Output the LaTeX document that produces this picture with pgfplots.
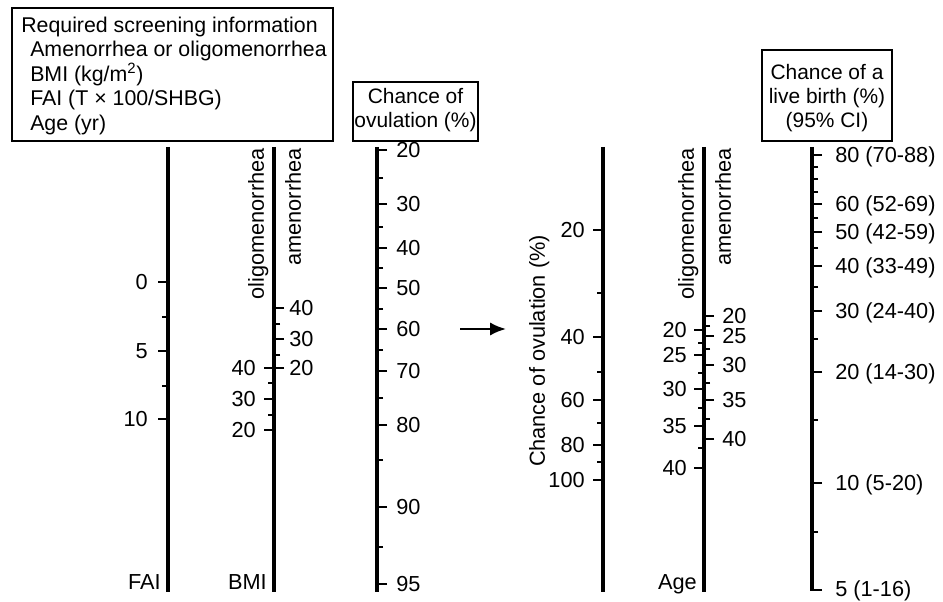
\documentclass[border=0pt]{standalone}
\usepackage{fontspec}
\setmainfont{Liberation Sans}
\usepackage{pgfplots}
\pgfplotsset{compat=1.18}
\usetikzlibrary{arrows.meta}
\pgfplotsset{
  axisline/.style={line width=2.3pt, black},
  majt/.style={only marks, mark=-, mark size=3.9pt, mark options={line width=1.5pt, black}},
  mint/.style={only marks, mark=-, mark size=2.4pt, mark options={line width=1.5pt, black}},
}
\begin{document}
\begin{tikzpicture}[
  lab/.style={font=\fontsize{16.3}{18}\selectfont, inner sep=0pt, text height=11.7pt, text depth=0pt},
  btxt/.style={font=\fontsize{15.7}{17}\selectfont, inner sep=0pt},
  ttxt/.style={font=\fontsize{16}{18}\selectfont, inner sep=0pt},
  box/.style={line width=1.8pt, black}]
\begin{axis}[x=0.75pt, y=0.75pt, y dir=reverse, xmin=0, xmax=943, ymin=0, ymax=602,
  hide axis, clip=false]

% fixed page frame (invisible)
\path (axis cs:0,0) rectangle (axis cs:943,602);

% ---- vertical scales ----
\addplot[axisline] coordinates {(168,147) (168,592)};
\addplot[axisline] coordinates {(274,147) (274,592)};
\addplot[axisline] coordinates {(377,147) (377,592)};
\addplot[axisline] coordinates {(603,147) (603,592)};
\addplot[axisline] coordinates {(704,147) (704,592)};
\addplot[axisline] coordinates {(812,147) (812,591)};

% FAI ticks (left)
\addplot[majt] coordinates {(163,282) (163,351) (163,419)};
\addplot[mint] coordinates {(165,317) (165,386)};
% BMI oligomenorrhea (left)
\addplot[majt] coordinates {(269,368) (269,399) (269,430)};
\addplot[mint] coordinates {(271,383) (271,415)};
% BMI amenorrhea (right)
\addplot[majt] coordinates {(279,308) (279,339) (279,368)};
\addplot[mint] coordinates {(277,324) (277,355)};
% Chance of ovulation (right)
\addplot[majt] coordinates {(382,150) (382,204) (382,248) (382,288) (382,329) (382,371) (382,425) (382,507) (382,584)};
\addplot[mint] coordinates {(380,178) (380,227) (380,268) (380,309) (380,350) (380,398) (380,460) (380,547)};
% Chance of ovulation, second scale (left)
\addplot[majt] coordinates {(598,230) (598,337) (598,400) (598,445) (598,480)};
\addplot[mint] coordinates {(600,293) (600,372) (600,423) (600,462)};
% Age oligomenorrhea (left)
\addplot[majt] coordinates {(699,330) (699,355) (699,389) (699,426) (699,468)};
\addplot[mint] coordinates {(701,343) (701,373) (701,408) (701,448)};
% Age amenorrhea (right)
\addplot[majt] coordinates {(709,316) (709,336) (709,365) (709,400) (709,439)};
\addplot[mint] coordinates {(707,326) (707,349) (707,383) (707,419)};
% Live birth (right)
\addplot[majt] coordinates {(817,155) (817,204) (817,232) (817,266) (817,311) (817,372) (817,483) (817,590)};
\addplot[mint] coordinates {(815,167) (815,179) (815,192) (815,218) (815,248) (815,287) (815,339) (815,420) (815,532)};

% arrow
\addplot[line width=1.8pt, -{Latex[length=12pt,width=10pt]}] coordinates {(460,329) (506,329)};

% ---- tick labels ----
\node[lab, anchor=east] at (axis cs:148,282) {0};
\node[lab, anchor=east] at (axis cs:148,351) {5};
\node[lab, anchor=east] at (axis cs:148,419) {10};
\node[lab, anchor=east] at (axis cs:161,582) {FAI};

\node[lab, anchor=east] at (axis cs:256,368) {40};
\node[lab, anchor=east] at (axis cs:256,399) {30};
\node[lab, anchor=east] at (axis cs:256,430) {20};
\node[lab, anchor=west] at (axis cs:289,308) {40};
\node[lab, anchor=west] at (axis cs:289,339) {30};
\node[lab, anchor=west] at (axis cs:289,368) {20};
\node[lab, anchor=east] at (axis cs:267,582) {BMI};
\node[lab, anchor=east, rotate=90] at (axis cs:256,148) {oligomenorrhea};
\node[lab, anchor=east, rotate=90] at (axis cs:293,148) {amenorrhea};

\node[lab, anchor=west] at (axis cs:396,150) {20};
\node[lab, anchor=west] at (axis cs:396,204) {30};
\node[lab, anchor=west] at (axis cs:396,248) {40};
\node[lab, anchor=west] at (axis cs:396,288) {50};
\node[lab, anchor=west] at (axis cs:396,329) {60};
\node[lab, anchor=west] at (axis cs:396,371) {70};
\node[lab, anchor=west] at (axis cs:396,425) {80};
\node[lab, anchor=west] at (axis cs:396,507) {90};
\node[lab, anchor=west] at (axis cs:396,584) {95};

\node[lab, anchor=center, rotate=90] at (axis cs:537,351) {Chance of ovulation (\%)};
\node[lab, anchor=east] at (axis cs:585,230) {20};
\node[lab, anchor=east] at (axis cs:585,337) {40};
\node[lab, anchor=east] at (axis cs:585,400) {60};
\node[lab, anchor=east] at (axis cs:585,445) {80};
\node[lab, anchor=east] at (axis cs:585,480) {100};

\node[lab, anchor=east] at (axis cs:687,330) {20};
\node[lab, anchor=east] at (axis cs:687,355) {25};
\node[lab, anchor=east] at (axis cs:687,389) {30};
\node[lab, anchor=east] at (axis cs:687,426) {35};
\node[lab, anchor=east] at (axis cs:687,468) {40};
\node[lab, anchor=west] at (axis cs:722,316) {20};
\node[lab, anchor=west] at (axis cs:722,336) {25};
\node[lab, anchor=west] at (axis cs:722,365) {30};
\node[lab, anchor=west] at (axis cs:722,400) {35};
\node[lab, anchor=west] at (axis cs:722,439) {40};
\node[lab, anchor=east] at (axis cs:697,582) {Age};
\node[lab, anchor=east, rotate=90] at (axis cs:686,148) {oligomenorrhea};
\node[lab, anchor=east, rotate=90] at (axis cs:723,148) {amenorrhea};

\node[lab, anchor=west] at (axis cs:835,155) {80 (70-88)};
\node[lab, anchor=west] at (axis cs:835,204) {60 (52-69)};
\node[lab, anchor=west] at (axis cs:835,232) {50 (42-59)};
\node[lab, anchor=west] at (axis cs:835,266) {40 (33-49)};
\node[lab, anchor=west] at (axis cs:835,311) {30 (24-40)};
\node[lab, anchor=west] at (axis cs:835,372) {20 (14-30)};
\node[lab, anchor=west] at (axis cs:835,483) {10 (5-20)};
\node[lab, anchor=west] at (axis cs:835,589) {5 (1-16)};

% ---- boxes ----
\draw[box] (axis cs:12,8) rectangle (axis cs:333,141);
\node[ttxt, anchor=base west] at (axis cs:21,33) {Required screening information};
\node[ttxt, anchor=base west] at (axis cs:30,57) {Amenorrhea or oligomenorrhea};
\node[ttxt, anchor=base west] at (axis cs:30,82) {BMI (kg/m\textsuperscript{2})};
\node[ttxt, anchor=base west] at (axis cs:30,106) {FAI (T × 100/SHBG)};
\node[ttxt, anchor=base west] at (axis cs:30,131) {Age (yr)};

\draw[box] (axis cs:353,82) rectangle (axis cs:478,141);
\node[btxt, anchor=base] at (axis cs:415.5,104) {Chance of};
\node[btxt, anchor=base] at (axis cs:415.5,128) {ovulation (\%)};

\draw[box] (axis cs:762,50) rectangle (axis cs:892,141);
\node[btxt, anchor=base] at (axis cs:827,80) {Chance of a};
\node[btxt, anchor=base] at (axis cs:827,104) {live birth (\%)};
\node[btxt, anchor=base] at (axis cs:827,128) {(95\% CI)};

\end{axis}
\end{tikzpicture}
\end{document}
